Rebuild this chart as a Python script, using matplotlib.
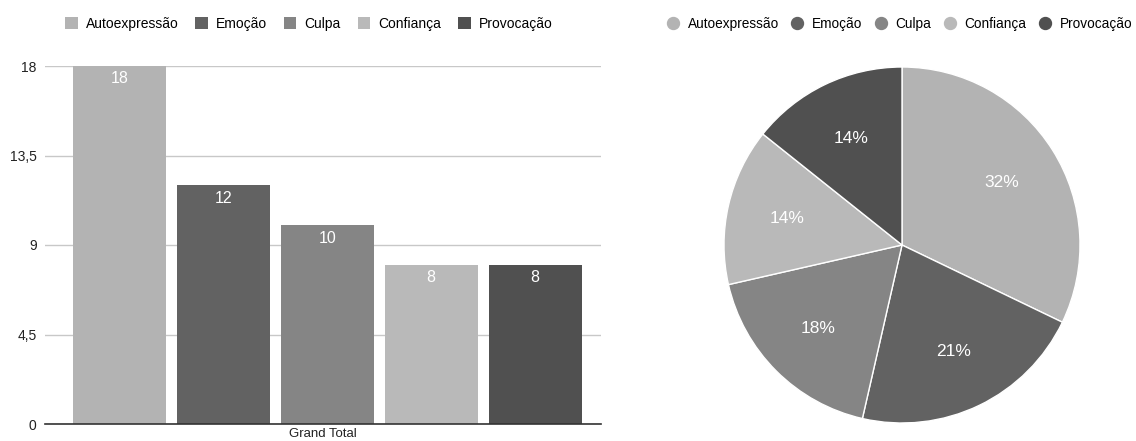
import numpy as np
import matplotlib.pyplot as plt
from matplotlib.patches import Patch
from matplotlib.lines import Line2D

plt.rcParams['font.family'] = ['Liberation Sans', 'DejaVu Sans']

categorias = ['Autoexpressão', 'Emoção', 'Culpa', 'Confiança', 'Provocação']
valores = [18, 12, 10, 8, 8]
cores = ['#b3b3b3', '#626262', '#858585', '#b9b9b9', '#505050']
yticks = [0, 4.5, 9, 13.5, 18]
ytick_labels = ['0', '4,5', '9', '13,5', '18']

W, H = 1136, 441
fig = plt.figure(figsize=(W / 100, H / 100), dpi=100)

# barras
ax = fig.add_axes([45 / W, 1 - 424 / H, (601 - 45) / W, (424 - 66) / H])
x = np.arange(len(valores))
bars = ax.bar(x, valores, width=0.895, color=cores, zorder=3)
ax.set_xlim(-0.717, 4.635)
ax.set_ylim(0, 18)
ax.set_yticks(yticks)
ax.set_yticklabels(ytick_labels, fontsize=10, color='#222222')
ax.tick_params(axis='y', length=0, pad=6)
ax.set_xticks([])
ax.grid(axis='y', color='#c8c8c8', lw=1, zorder=0)
for s in ['top', 'right', 'left']:
    ax.spines[s].set_visible(False)
ax.spines['bottom'].set_color('#333333')
ax.spines['bottom'].set_linewidth(1.2)
ax.spines['bottom'].set_zorder(4)
for b, v in zip(bars, valores):
    ax.text(b.get_x() + b.get_width() / 2, v - 0.65, str(v), ha='center', va='center',
            color='white', fontsize=11.5, zorder=5)
ax.text(0.5, -0.012, 'Grand Total', transform=ax.transAxes, ha='center', va='top',
        fontsize=9.5, color='#222222')

handles = [Patch(facecolor=c, edgecolor='none') for c in cores]
fig.legend(handles, categorias, loc='center left', bbox_to_anchor=(65 / W, 1 - 24 / H),
           ncol=5, frameon=False, fontsize=10, handlelength=0.9, handleheight=0.9,
           handletextpad=0.6, columnspacing=1.2, borderaxespad=0, borderpad=0)

# pizza
r = 178
cx, cy = 902, 245
ax2 = fig.add_axes([(cx - r) / W, 1 - (cy + r) / H, 2 * r / W, 2 * r / H])
wedges, _, autotexts = ax2.pie(valores, colors=cores, startangle=90, counterclock=False,
                               autopct='%1.0f%%', pctdistance=0.665,
                               wedgeprops=dict(edgecolor='white', linewidth=1))
for t in autotexts:
    t.set_color('white')
    t.set_fontsize(12.5)
ax2.set_xlim(-1, 1)
ax2.set_ylim(-1, 1)
ax2.set_aspect('equal')

handles2 = [Line2D([], [], marker='o', ls='none', color=c, markersize=8.6) for c in cores]
fig.legend(handles2, categorias, loc='center left', bbox_to_anchor=(666 / W, 1 - 24 / H),
           ncol=5, frameon=False, fontsize=9.8, handlelength=1.0,
           handletextpad=0.58, columnspacing=0.86, borderaxespad=0, borderpad=0)

fig.savefig('out.png', dpi=100)
